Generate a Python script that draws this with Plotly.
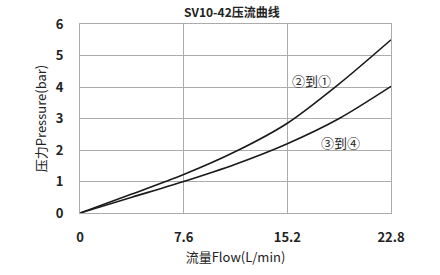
import plotly.graph_objects as go

flow = [0, 3.8, 7.6, 11.4, 15.2, 19.0, 22.8]
p_2_to_1 = [0, 0.6, 1.22, 1.95, 2.85, 4.1, 5.5]
p_3_to_4 = [0, 0.5, 1.0, 1.55, 2.2, 3.0, 4.02]
x_ticks = [0, 7.6, 15.2, 22.8]
x_tick_text = ["0", "7.6", "15.2", "22.8"]
y_ticks = [0, 1, 2, 3, 4, 5, 6]

font_family = "Noto Sans CJK SC, Noto Sans, sans-serif"

fig = go.Figure()
for ys in (p_2_to_1, p_3_to_4):
    fig.add_trace(go.Scatter(x=flow, y=ys, mode="lines",
                             line=dict(color="#1a1a1a", width=1.6, shape="spline", smoothing=0.8),
                             showlegend=False, hoverinfo="skip"))

fig.add_annotation(x=17.0, y=4.2, text="②到①", showarrow=False,
                   font=dict(family=font_family, size=13, color="#222"))
fig.add_annotation(x=19.1, y=2.25, text="③到④", showarrow=False,
                   font=dict(family=font_family, size=13, color="#222"))

fig.update_layout(
    width=440, height=275,
    margin=dict(l=80, r=49, t=24, b=59),
    paper_bgcolor="white", plot_bgcolor="white",
    font=dict(family=font_family, size=12, color="#222"),
    title=dict(text="<b>SV10-42压流曲线</b>", x=0.527, xanchor="center", y=0.955, yanchor="middle",
               font=dict(size=12, color="#222")),
    xaxis=dict(range=[0, 22.8], tickvals=x_ticks, ticktext=x_tick_text,
               showgrid=True, gridcolor="#ababab", gridwidth=1,
               showline=True, linecolor="#ababab", linewidth=1, mirror=True,
               zeroline=False, ticks="", ticklabelstandoff=12,
               tickfont=dict(size=13, color="#222", weight="bold"),
               title=dict(text="流量Flow(L/min)", font=dict(size=13), standoff=8)),
    yaxis=dict(range=[0, 6], tickvals=y_ticks,
               showgrid=True, gridcolor="#ababab", gridwidth=1,
               showline=True, linecolor="#ababab", linewidth=1, mirror=True,
               zeroline=False, ticks="", ticklabelstandoff=13,
               tickfont=dict(size=13, color="#222", weight="bold"),
               title=dict(text="压力Pressure(bar)", font=dict(size=13), standoff=6)),
)

fig.write_html("out.html")
